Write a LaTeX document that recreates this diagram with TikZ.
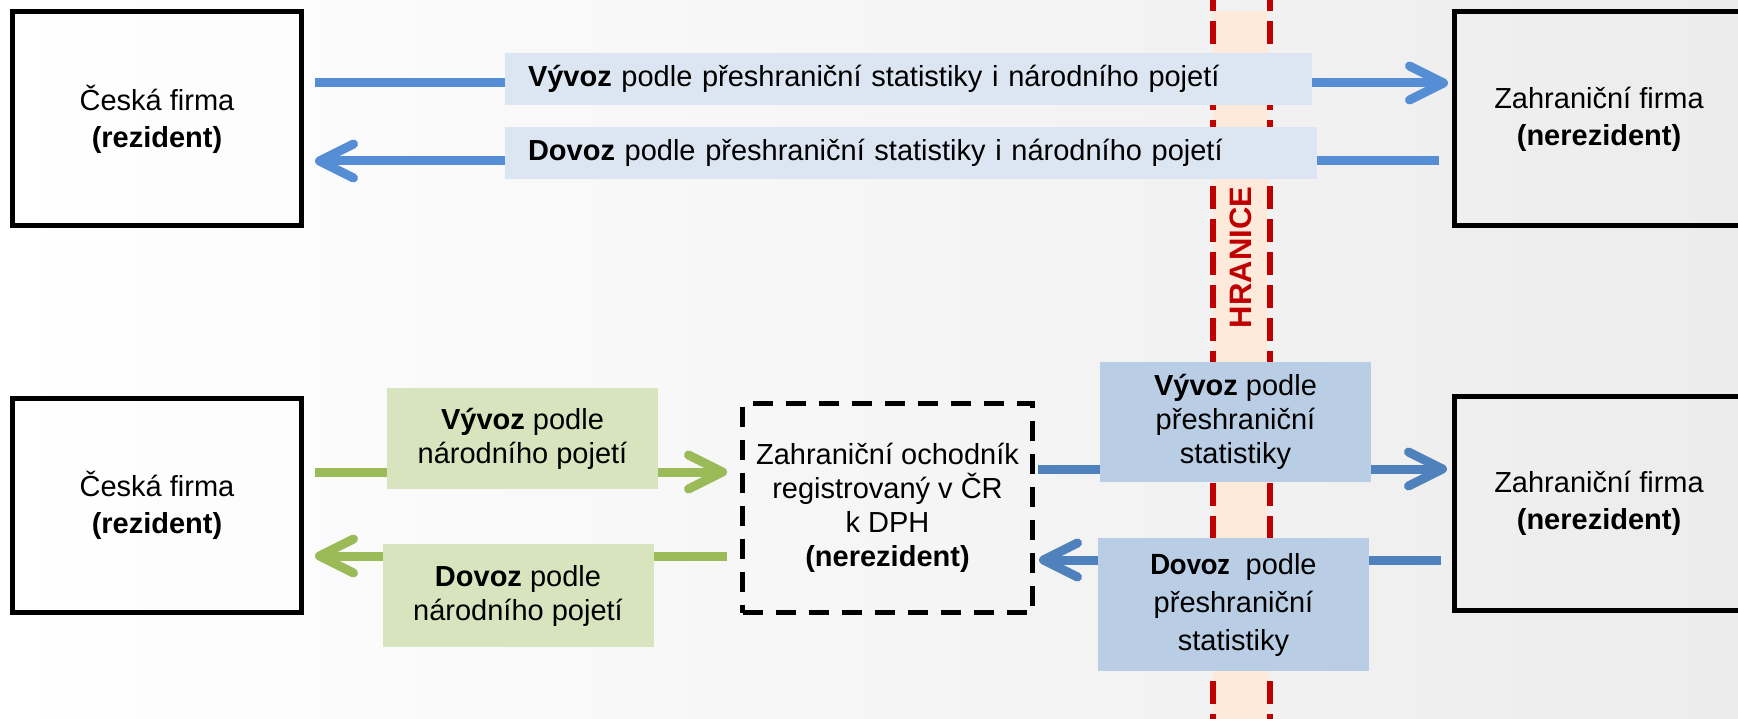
\documentclass[tikz,border=0pt]{standalone}
\usepackage{fontspec}
\setmainfont{Liberation Sans}
\newfontfamily\carlito{Carlito}
\usetikzlibrary{arrows.meta, calc}
\definecolor{tlabel}{HTML}{DCE6F2}
\definecolor{tarrow}{HTML}{558ED5}
\definecolor{bbox}{HTML}{B9CDE5}
\definecolor{barrow}{HTML}{4F81BD}
\definecolor{gbox}{HTML}{D7E4BD}
\definecolor{garrow}{HTML}{9BBB59}
\definecolor{hfill}{HTML}{FDEADA}
\definecolor{hred}{HTML}{C00000}
\definecolor{bggray}{HTML}{ECECEC}
\newcommand{\txt}{\fontsize{29}{34}\selectfont}
\pgfdeclarelayer{pozadi}
\pgfsetlayers{pozadi,main}
\tikzset{
  % firma (rezident / nerezident)
  firm/.style={draw=black, line width=5pt, minimum width=289pt, minimum height=214pt,
    align=center, font=\fontsize{29}{37}\selectfont},
  dashfirm/.style={firm, dash pattern=on 20pt off 13pt, minimum width=290pt,
    minimum height=209pt, font=\txt},
  % popisky toku
  toplbl/.style={fill=tlabel, minimum height=52pt, align=left, inner xsep=23pt, font=\txt},
  lbox/.style={minimum width=271pt, align=center, inner sep=0pt, font=\txt},
  glbl/.style={lbox, fill=gbox},
  blbl/.style={lbox, fill=bbox},
  % sipky
  arr/.style={line width=9pt, -{Straight Barb[length=34pt, width=34pt, round]}},
  tarr/.style={arr, tarrow},
  garr/.style={arr, garrow},
  barr/.style={arr, barrow},
  % hranice
  hline/.style={hred, line width=6pt, dash pattern=on 23pt off 10pt},
}

\begin{document}
\begin{tikzpicture}[x=1pt, y=-1pt]
  \useasboundingbox (0,0) rectangle (1738,719);
  \begin{pgfonlayer}{pozadi}
    \shade[left color=white, right color=bggray] (0,0) rectangle (1738,719);
    \fill[hfill] (1213,11) rectangle (1268,719);
    \draw[hline] (1213,-12) -- (1213,719);
    \draw[hline] (1270,-12) -- (1270,719);
  \end{pgfonlayer}
  % horni cast
  \node[firm] (cz1) at (157,119) {Česká firma\\\textbf{(rezident)}};
  \node[firm] (zf1) at (1599,119) {Zahraniční firma\\\textbf{(nerezident)}};
  \node[toplbl, text width=761pt] (vyv1) at (908.5,79)
    {\textbf{Vývoz} podle přeshraniční statistiky i národního pojetí};
  \node[toplbl, text width=766pt] (dov1) at (911,153)
    {\textbf{Dovoz} podle přeshraniční statistiky i národního pojetí};
  \node[rotate=90, text=hred, font=\bfseries\fontsize{31}{31}\selectfont] (hranice)
    at (1241,257.5) {HRANICE};
  % dolni cast
  \node[firm] (cz2) at (157,505.5) {Česká firma\\\textbf{(rezident)}};
  \node[firm] (zf2) at (1599,503) {Zahraniční firma\\\textbf{(nerezident)}};
  \node[dashfirm] (obch) at (887.5,508)
    {Zahraniční ochodník\\registrovaný v ČR\\k DPH\\\textbf{(nerezident)}};
  \node[glbl, minimum height=101pt] (gv) at (522.5,438.5) {\textbf{Vývoz} podle\\národního pojetí};
  \node[glbl, minimum height=103pt] (gd) at (518,595.5) {\textbf{Dovoz} podle\\národního pojetí};
  \node[blbl, minimum height=120pt] (bv) at (1235.5,422) {\textbf{Vývoz} podle\\přeshraniční\\statistiky};
  \node[blbl, minimum height=133pt, font=\fontsize{29}{38}\selectfont] (bd) at (1233.5,604.5)
    {{\carlito\bfseries\fontsize{31}{38}\selectfont Dovoz}\ \ podle\\přeshraniční\\statistiky};
  \begin{pgfonlayer}{pozadi}
    \draw[tarr] ($(cz1.east)+(11,-36)$) -- ($(zf1.west)+(-4,-36)$);
    \draw[tarr] ($(zf1.west)+(-13,42)$) -- ($(cz1.east)+(11,42)$);
    \draw[garr] ($(cz2.east)+(11,-33.5)$) -- ($(obch.west)+(-13,-36)$);
    \draw[garr] ($(obch.west)+(-13,48)$) -- ($(cz2.east)+(11,50.5)$);
    \draw[barr] ($(obch.east)+(3,-39)$) -- ($(zf2.west)+(-5,-34)$);
    \draw[barr] ($(zf2.west)+(-11,57)$) -- ($(obch.east)+(4,52)$);
  \end{pgfonlayer}
\end{tikzpicture}
\end{document}
